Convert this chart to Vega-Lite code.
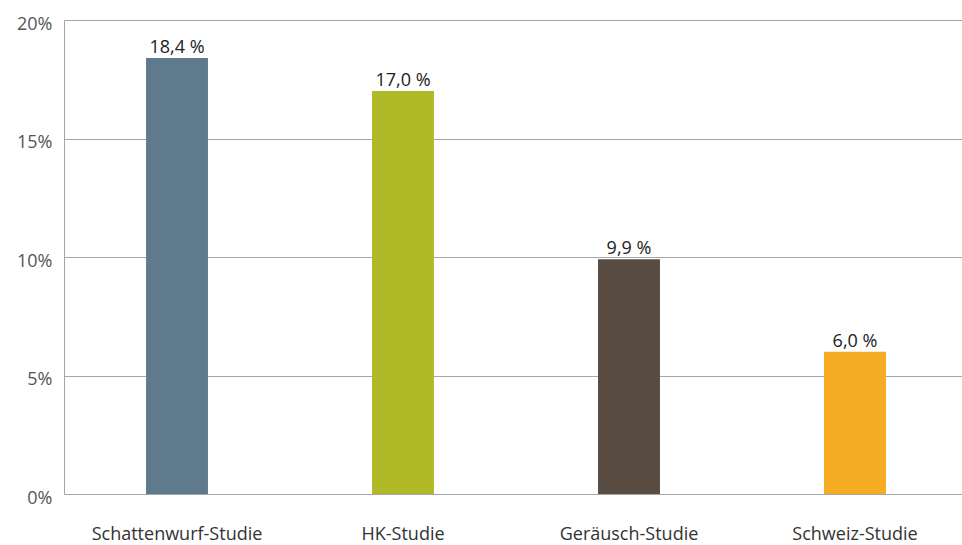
{
  "$schema": "https://vega.github.io/schema/vega-lite/v6.json",
  "autosize": {"type": "none"},
  "padding": {"left": 64, "top": 20, "right": 0, "bottom": 51},
  "width": 898,
  "height": 474,
  "background": "white",
  "config": {
    "view": {"stroke": null},
    "font": "Open Sans"
  },
  "data": {
    "values": [
      {"studie": "Schattenwurf-Studie", "anteil": 0.184, "label": "18,4 %"},
      {"studie": "HK-Studie", "anteil": 0.170, "label": "17,0 %"},
      {"studie": "Geräusch-Studie", "anteil": 0.099, "label": "9,9 %"},
      {"studie": "Schweiz-Studie", "anteil": 0.060, "label": "6,0 %"}
    ]
  },
  "encoding": {
    "x": {
      "field": "studie",
      "type": "nominal",
      "sort": null,
      "scale": {"range": [0, 904], "paddingInner": 0.726, "paddingOuter": 0.363},
      "axis": {
        "title": null,
        "labelAngle": 0,
        "labelFontSize": 18,
        "labelColor": "#333333",
        "labelPadding": 31,
        "ticks": false,
        "domain": false
      }
    },
    "y": {
      "field": "anteil",
      "type": "quantitative",
      "scale": {"domain": [0, 0.2], "nice": false},
      "axis": {
        "title": null,
        "values": [0, 0.05, 0.1, 0.15, 0.2],
        "format": ".0%",
        "labelFontSize": 18,
        "labelColor": "#555555",
        "labelPadding": 12,
        "labelOffset": 4,
        "ticks": false,
        "domainColor": "#a6a6a6",
        "gridColor": "#a6a6a6",
        "gridWidth": 1
      }
    }
  },
  "layer": [
    {
      "mark": {"type": "bar"},
      "encoding": {
        "color": {
          "field": "studie",
          "type": "nominal",
          "sort": null,
          "scale": {
            "domain": ["Schattenwurf-Studie", "HK-Studie", "Geräusch-Studie", "Schweiz-Studie"],
            "range": ["#5f7a8c", "#b0b928", "#584b42", "#f5ac22"]
          },
          "legend": null
        }
      }
    },
    {
      "mark": {"type": "text", "baseline": "alphabetic", "dy": -5, "fontSize": 18, "color": "#222222"},
      "encoding": {
        "text": {"field": "label"}
      }
    }
  ]
}
